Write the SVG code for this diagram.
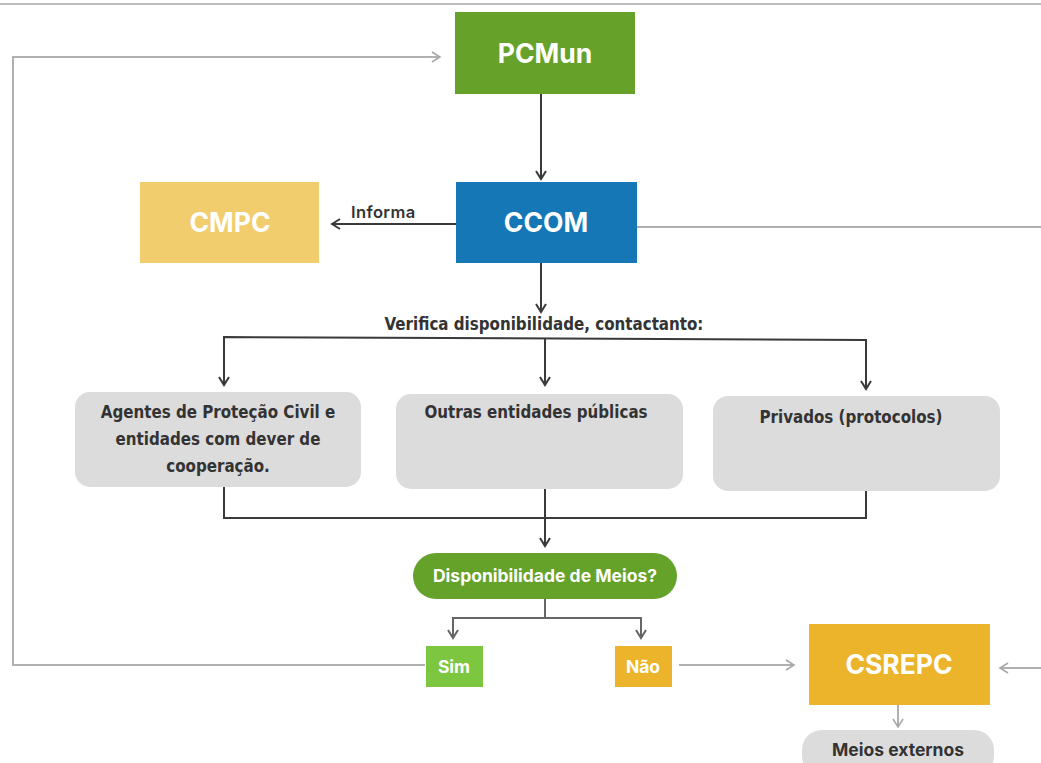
<svg xmlns="http://www.w3.org/2000/svg" width="1041" height="763" viewBox="0 0 1041 763">
  <style>
    .big { font-family: Inter, "Liberation Sans", sans-serif; font-weight: 700; font-size: 26.5px; fill: #ffffff; text-anchor: middle; }
    .mid { font-family: Inter, "Liberation Sans", sans-serif; font-weight: 700; font-size: 17.5px; fill: #ffffff; text-anchor: middle; }
    .cond { font-family: "DejaVu Sans Condensed", "DejaVu Sans", sans-serif; font-weight: 600; font-size: 16.8px; fill: #333333; text-anchor: middle; }
    .lbl { font-family: Inter, "Liberation Sans", sans-serif; font-weight: 600; font-size: 16.5px; fill: #333333; letter-spacing: 0.4px; }
    .dark { fill: none; stroke: #3a3a3a; stroke-width: 2; }
    .light { fill: none; stroke: #b0b0b0; stroke-width: 2; }
    .gbox { fill: #dcdcdc; }
  </style>
  <defs>
    <marker id="ad" viewBox="0 0 12 12" refX="10" refY="6" markerWidth="12" markerHeight="12" markerUnits="userSpaceOnUse" orient="auto">
      <path d="M2,1 L10,6 L2,11" fill="none" stroke="#3a3a3a" stroke-width="2"/>
    </marker>
    <marker id="am" viewBox="0 0 12 12" refX="10" refY="6" markerWidth="12" markerHeight="12" markerUnits="userSpaceOnUse" orient="auto">
      <path d="M2,1 L10,6 L2,11" fill="none" stroke="#666666" stroke-width="2"/>
    </marker>
    <marker id="al" viewBox="0 0 12 12" refX="10" refY="6" markerWidth="12" markerHeight="12" markerUnits="userSpaceOnUse" orient="auto">
      <path d="M2,1 L10,6 L2,11" fill="none" stroke="#a8a8a8" stroke-width="1.6"/>
    </marker>
  </defs>

  <rect width="1041" height="763" fill="#ffffff"/>
  <!-- header rule -->
  <line x1="0" y1="4" x2="1041" y2="4" stroke="#bbbbbb" stroke-width="2"/>

  <g id="connectors">
    <!-- loop back from Sim to PCMun -->
    <polyline class="light" points="425,665 13,665 13,57 440,57" marker-end="url(#al)"/>
    <!-- PCMun to CCOM -->
    <line class="dark" x1="541" y1="94" x2="541" y2="179" marker-end="url(#ad)"/>
    <!-- CCOM informs CMPC -->
    <line class="dark" x1="456" y1="224" x2="332" y2="224" marker-end="url(#ad)"/>
    <text class="lbl" x="351" y="218">Informa</text>
    <!-- CCOM to right edge -->
    <line class="light" x1="637" y1="227" x2="1041" y2="227"/>
    <!-- CCOM down to check -->
    <line class="dark" x1="541" y1="263" x2="541" y2="312" marker-end="url(#ad)"/>
    <!-- fan out to contacts -->
    <polyline class="dark" points="224,385 224,337 866,340 866,389" marker-end="url(#ad)"/>
    <line class="dark" x1="224" y1="337" x2="224" y2="385" marker-end="url(#ad)"/>
    <line class="dark" x1="545" y1="338" x2="545" y2="385" marker-end="url(#ad)"/>
    <!-- gather back -->
    <polyline class="dark" points="224,487 224,518 866,518 866,491"/>
    <line class="dark" x1="545" y1="489" x2="545" y2="546" marker-end="url(#ad)"/>
    <!-- decision split -->
    <polyline fill="none" stroke="#666666" stroke-width="2" points="545,578 545,618 453,618 453,638" marker-end="url(#am)"/>
    <polyline fill="none" stroke="#666666" stroke-width="2" points="545,618 641,618 641,638" marker-end="url(#am)"/>
    <!-- Não to CSREPC -->
    <line class="light" x1="679" y1="665" x2="794" y2="665" marker-end="url(#al)"/>
    <!-- from right edge to CSREPC -->
    <line class="light" x1="1041" y1="668" x2="1000" y2="668" marker-end="url(#al)"/>
    <!-- CSREPC to external means -->
    <line class="light" x1="898" y1="705" x2="898" y2="727" marker-end="url(#al)"/>
  </g>

  <g id="pcmun">
    <rect x="455" y="12" width="180" height="82" fill="#66a22a"/>
    <text class="big" x="545" y="63">PCMun</text>
  </g>
  <g id="ccom">
    <rect x="456" y="182" width="181" height="81" fill="#1577b5"/>
    <text class="big" x="546" y="232">CCOM</text>
  </g>
  <g id="cmpc">
    <rect x="140" y="182" width="179" height="81" fill="#f2cd6e"/>
    <text class="big" x="230" y="232">CMPC</text>
  </g>
  <g id="verifica">
    <text class="cond" x="544" y="330">Verifica disponibilidade, contactanto:</text>
  </g>
  <g id="agentes">
    <rect class="gbox" x="75" y="392" width="286" height="95" rx="15"/>
    <text class="cond" x="218" y="418">Agentes de Proteção Civil e</text>
    <text class="cond" x="218" y="445">entidades com dever de</text>
    <text class="cond" x="218" y="472">cooperação.</text>
  </g>
  <g id="outras">
    <rect class="gbox" x="396" y="394" width="287" height="95" rx="15"/>
    <text class="cond" x="536" y="418">Outras entidades públicas</text>
  </g>
  <g id="privados">
    <rect class="gbox" x="713" y="396" width="287" height="95" rx="15"/>
    <text class="cond" x="851" y="423">Privados (protocolos)</text>
  </g>
  <g id="decisao">
    <rect x="413" y="553" width="264" height="46" rx="23" fill="#65a22a"/>
    <text class="mid" x="545" y="582">Disponibilidade de Meios?</text>
  </g>
  <g id="sim">
    <rect x="426" y="646" width="57" height="41" fill="#7dc740"/>
    <text class="mid" x="454" y="673">Sim</text>
  </g>
  <g id="nao">
    <rect x="615" y="646" width="57" height="41" fill="#ecb42a"/>
    <text class="mid" x="643" y="673">Não</text>
  </g>
  <g id="csrepc">
    <rect x="809" y="624" width="181" height="81" fill="#ecb42a"/>
    <text class="big" x="899" y="674">CSREPC</text>
  </g>
  <g id="meios-externos">
    <rect class="gbox" x="802" y="730" width="192" height="46" rx="20"/>
    <text class="mid" x="898" y="756" style="fill:#333333">Meios externos</text>
  </g>
</svg>
